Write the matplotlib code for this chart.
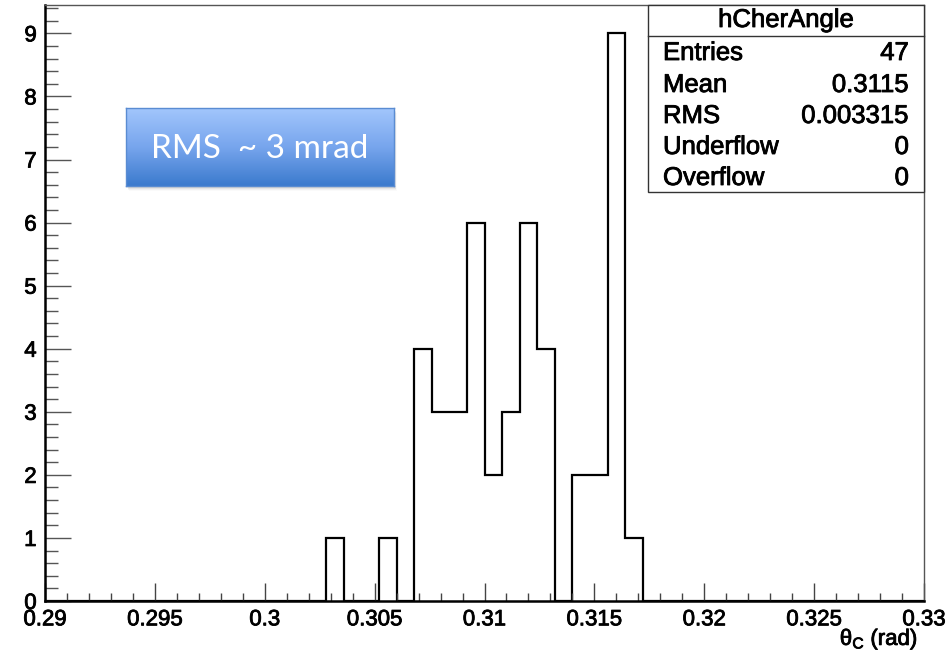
import numpy as np
import matplotlib
matplotlib.use('Agg')
import matplotlib.pyplot as plt
import matplotlib.patheffects as pe
from matplotlib.patches import Rectangle
from matplotlib.colors import LinearSegmentedColormap
from matplotlib.ticker import MultipleLocator, FixedLocator, FixedFormatter

# ---------------- data ----------------
x_min, x_max, n_bins = 0.29, 0.33, 50
counts = [0] * 16 + [1, 0, 0, 1, 0, 4, 3, 3, 6, 2, 3, 6, 4, 0, 2, 2, 9, 1] + [0] * 16
x_ticks = [0.29, 0.295, 0.30, 0.305, 0.31, 0.315, 0.32, 0.325, 0.33]
x_tick_labels = ["0.29", "0.295", "0.3", "0.305", "0.31", "0.315", "0.32", "0.325", "0.33"]
y_ticks = [0, 1, 2, 3, 4, 5, 6, 7, 8, 9]
y_max = 9.45
hist_name = "hCherAngle"
stats_labels = ["Entries", "Mean", "RMS", "Underflow", "Overflow"]
stats_values = ["47", "0.3115", "0.003315", "0", "0"]
annotation = "RMS  ~ 3 mrad"
x_label = r"$\mathrm{\theta}_{\mathrm{C}}$ (rad)"

# ---------------- style ----------------
plt.rcParams['font.family'] = ['Liberation Sans', 'DejaVu Sans']
plt.rcParams['mathtext.fontset'] = 'custom'
plt.rcParams['mathtext.rm'] = 'Liberation Sans'
plt.rcParams['mathtext.it'] = 'Liberation Sans'
plt.rcParams['mathtext.bf'] = 'Liberation Sans:bold'

heavy = [pe.withStroke(linewidth=0.6, foreground='black')]

W, H = 949, 655
fig = plt.figure(figsize=(W / 100, H / 100), dpi=100)
fig.patch.set_facecolor('white')


def fx(x):
    return x / W


def fy(y):
    return 1 - y / H


ax_l, ax_r, ax_t, ax_b = 45, 924, 5, 601
ax = fig.add_axes([fx(ax_l), fy(ax_b), (ax_r - ax_l) / W, (ax_b - ax_t) / H])

edges = np.linspace(x_min, x_max, n_bins + 1)
ax.stairs(counts, edges, color='black', lw=1.6, baseline=0)

ax.set_xlim(x_min, x_max)
ax.set_ylim(0, y_max)

ax.xaxis.set_major_locator(FixedLocator(x_ticks))
ax.xaxis.set_major_formatter(FixedFormatter(x_tick_labels))
ax.xaxis.set_minor_locator(MultipleLocator(0.001))
ax.yaxis.set_major_locator(FixedLocator(y_ticks))
ax.yaxis.set_minor_locator(MultipleLocator(0.2))

ax.tick_params(axis='x', which='major', direction='in', length=13, width=1.0,
               color='#444444', labelsize=16, pad=6)
ax.tick_params(axis='x', which='minor', direction='in', length=6, width=1.0,
               color='#444444')
ax.tick_params(axis='y', which='major', direction='in', length=19, width=1.0,
               color='#555555', labelsize=16, pad=6)
ax.tick_params(axis='y', which='minor', direction='in', length=9.5, width=1.0,
               color='#555555')
ax.tick_params(top=False, right=False, which='both')
for lbl in ax.get_xticklabels() + ax.get_yticklabels():
    lbl.set_path_effects(heavy)

for s in ['left', 'bottom']:
    ax.spines[s].set_linewidth(1.8)
    ax.spines[s].set_color('black')
for s in ['top', 'right']:
    ax.spines[s].set_linewidth(1.0)
    ax.spines[s].set_color('#555555')

# x label
fig.text(fx(918), fy(645), x_label, ha='right', va='baseline', fontsize=16,
         path_effects=heavy)

# ---------------- stats box ----------------
bx0, bx1, by0, by1, bsep = 648, 924, 5, 192, 36
fig.patches.append(Rectangle((fx(bx0), fy(by1)), (bx1 - bx0) / W, (by1 - by0) / H,
                             transform=fig.transFigure, facecolor='white',
                             edgecolor='#333333', lw=1.0, zorder=5))
fig.add_artist(plt.Line2D([fx(bx0), fx(bx1)], [fy(bsep), fy(bsep)],
                          transform=fig.transFigure, color='#333333', lw=1.0, zorder=6))
fig.text(fx((bx0 + bx1) / 2), fy(20), hist_name, ha='center', va='center',
         fontsize=18.5, zorder=7, path_effects=heavy)
row_y = [53, 85, 116, 147, 178]
for lab, val, yy in zip(stats_labels, stats_values, row_y):
    fig.text(fx(663), fy(yy), lab, ha='left', va='center', fontsize=18.5, zorder=7,
             path_effects=heavy)
    fig.text(fx(909), fy(yy), val, ha='right', va='center', fontsize=18.5, zorder=7,
             path_effects=heavy)

# ---------------- blue annotation box ----------------
gx0, gx1, gy0, gy1 = 126, 394, 108, 186
# soft shadow
for i, a in enumerate([0.07, 0.05, 0.035, 0.02]):
    off = 1.5 + i * 1.2
    fig.patches.append(Rectangle((fx(gx0 + off * 0.6), fy(gy1 + off)), (gx1 - gx0) / W,
                                 (gy1 - gy0) / H, transform=fig.transFigure,
                                 facecolor='black', edgecolor='none', alpha=a, zorder=8))
gax = fig.add_axes([fx(gx0), fy(gy1), (gx1 - gx0) / W, (gy1 - gy0) / H], zorder=10)
cmap = LinearSegmentedColormap.from_list('b', ['#a2c6fc', '#77a5ed', '#3b7acd'])
grad = np.linspace(0, 1, 256).reshape(-1, 1)
gax.imshow(grad, aspect='auto', cmap=cmap, extent=[0, 1, 0, 1], origin='upper')
gax.set_xlim(0, 1)
gax.set_ylim(0, 1)
gax.set_xticks([])
gax.set_yticks([])
for s in gax.spines.values():
    s.set_color('#5a8cd2')
    s.set_linewidth(1.0)
gax.text(0.5, 0.47, annotation, ha='center', va='center', color='white',
         fontsize=24, family=['Lato', 'DejaVu Sans'])

fig.savefig('out.png', dpi=100, facecolor='white')
